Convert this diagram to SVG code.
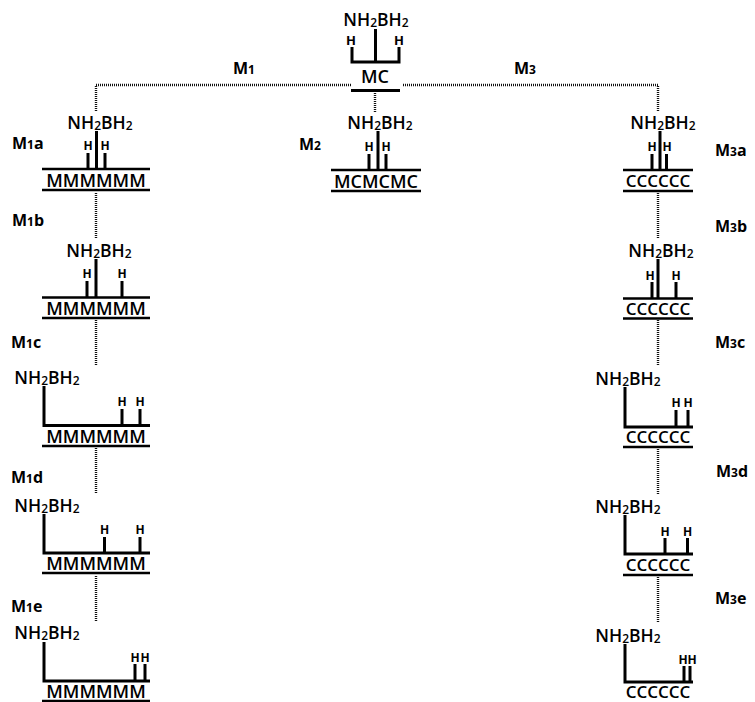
<svg xmlns="http://www.w3.org/2000/svg" width="755" height="702" viewBox="0 0 755 702">
<style>
text{font-family:"Open Sans","Liberation Sans",sans-serif;fill:#000}
.f{font-size:17.5px;font-weight:600;text-anchor:middle}
.f tspan{font-size:12px;baseline-shift:-1px}
.h{font-size:12px;font-weight:700;text-anchor:middle}
.s{font-size:18px;font-weight:600;text-anchor:middle}
.c{font-size:17px;font-weight:600;text-anchor:middle}
.l{font-size:16px;font-weight:700}
.l tspan{font-size:12px}
.b{stroke:#000;stroke-width:3;fill:none}
.t{stroke:#000;stroke-width:2.600;fill:none}
.d{stroke:#111;stroke-width:2.400;fill:none;stroke-dasharray:1 1}
.m{font-size:13px;font-weight:700;text-anchor:middle}
rect{fill:#fff}
</style>
<rect width="755" height="702"/>
<g id="connectors">
<path class="d" d="M351 85H96V112M403 85H658V112M375 93V112M96 193V238M96 320V366M96 448V494M96 576V621M658 193V238M658 320V366M658 449V495M658 577V623"/>
</g>
<g id="labels">
<text class="l" x="233" y="74">M<tspan>1</tspan></text>
<text class="l" x="514" y="74">M<tspan>3</tspan></text>
<text class="l" x="299" y="150">M<tspan>2</tspan></text>
<text class="l" x="12" y="149">M<tspan>1</tspan>a</text>
<text class="l" x="12" y="226">M<tspan>1</tspan>b</text>
<text class="l" x="11" y="348">M<tspan>1</tspan>c</text>
<text class="l" x="11" y="483">M<tspan>1</tspan>d</text>
<text class="l" x="11" y="612">M<tspan>1</tspan>e</text>
<text class="l" x="715" y="156">M<tspan>3</tspan>a</text>
<text class="l" x="715" y="232">M<tspan>3</tspan>b</text>
<text class="l" x="715" y="348">M<tspan>3</tspan>c</text>
<text class="l" x="716" y="477">M<tspan>3</tspan>d</text>
<text class="l" x="715" y="604">M<tspan>3</tspan>e</text>
</g>
<g id="node-mc">
<text class="f" x="376" y="26">NH<tspan>2</tspan>BH<tspan>2</tspan></text>
<text class="m" x="351" y="45">H</text>
<text class="m" x="399" y="45">H</text>
<path class="b" d="M352 47V62H399V47M375.500 29V62M351 90.500H400"/>
<text class="s" x="375" y="83">MC</text>
</g>
<g id="node-m2">
<text class="f" x="380" y="129">NH<tspan>2</tspan>BH<tspan>2</tspan></text>
<text class="h" x="369" y="151">H</text><text class="h" x="386" y="151">H</text>
<path class="b" d="M378 131V170M369 154V170M386 154V170"/>
<path class="t" d="M331 170H421M331 191H421"/>
<text class="s" x="376" y="188">MCMCMC</text>
</g>
<g id="node-m1a">
<text class="f" x="100" y="129">NH<tspan>2</tspan>BH<tspan>2</tspan></text>
<text class="h" x="88" y="150">H</text><text class="h" x="105" y="150">H</text>
<path class="b" d="M96.500 131V169M88 153V169M105 153V169"/>
<path class="t" d="M42 169H150M42 190H150"/>
<text class="s" x="96" y="187">MMMMMM</text>
</g>
<g id="node-m1b">
<text class="f" x="99" y="257">NH<tspan>2</tspan>BH<tspan>2</tspan></text>
<text class="h" x="87" y="278">H</text><text class="h" x="122" y="278">H</text>
<path class="b" d="M96 259V297M87 281V297M122 281V297"/>
<path class="t" d="M42 297.500H150M42 318H150"/>
<text class="s" x="96" y="315">MMMMMM</text>
</g>
<g id="node-m1c">
<text class="f" x="47" y="384">NH<tspan>2</tspan>BH<tspan>2</tspan></text>
<text class="h" x="122" y="406">H</text><text class="h" x="140" y="406">H</text>
<path class="b" d="M44 386V425.500H150M122 409V425M140 409V425"/>
<path class="t" d="M42 446H150"/>
<text class="s" x="96" y="443">MMMMMM</text>
</g>
<g id="node-m1d">
<text class="f" x="47" y="512">NH<tspan>2</tspan>BH<tspan>2</tspan></text>
<text class="h" x="104.500" y="534">H</text><text class="h" x="140" y="534">H</text>
<path class="b" d="M44 514V553H150M104.500 537V553M140 537V553"/>
<path class="t" d="M42 573H150"/>
<text class="s" x="96" y="570">MMMMMM</text>
</g>
<g id="node-m1e">
<text class="f" x="47" y="639">NH<tspan>2</tspan>BH<tspan>2</tspan></text>
<text class="h" x="135" y="662">H</text><text class="h" x="145" y="662">H</text>
<path class="b" d="M44 642V681H150M135 664V681M145 664V681"/>
<path class="t" d="M42 701H150"/>
<text class="s" x="96" y="698">MMMMMM</text>
</g>
<g id="node-m3a">
<text class="f" x="663" y="129">NH<tspan>2</tspan>BH<tspan>2</tspan></text>
<text class="h" x="652" y="151">H</text><text class="h" x="667" y="151">H</text>
<path class="b" d="M660 131V170M652 154V170M666.500 154V170"/>
<path class="t" d="M623 170H693M623 191H693"/>
<text class="c" x="658" y="187">CCCCCC</text>
</g>
<g id="node-m3b">
<text class="f" x="661" y="257">NH<tspan>2</tspan>BH<tspan>2</tspan></text>
<text class="h" x="650" y="280">H</text><text class="h" x="676" y="280">H</text>
<path class="b" d="M658 259V298M652 282V298M676 282V298"/>
<path class="t" d="M623 298.500H693M623 318.500H693"/>
<text class="c" x="658" y="315">CCCCCC</text>
</g>
<g id="node-m3c">
<text class="f" x="628" y="385">NH<tspan>2</tspan>BH<tspan>2</tspan></text>
<text class="h" x="676" y="407">H</text><text class="h" x="688" y="407">H</text>
<path class="b" d="M625 387V427H693M676 410V427M688 410V427"/>
<path class="t" d="M623 447H693"/>
<text class="c" x="658" y="443">CCCCCC</text>
</g>
<g id="node-m3d">
<text class="f" x="628" y="513">NH<tspan>2</tspan>BH<tspan>2</tspan></text>
<text class="h" x="665" y="536">H</text><text class="h" x="687.500" y="536">H</text>
<path class="b" d="M625 515V554H693M665 538V554M687.500 538V554"/>
<path class="t" d="M623 575H693"/>
<text class="c" x="658" y="571">CCCCCC</text>
</g>
<g id="node-m3e">
<text class="f" x="628" y="642">NH<tspan>2</tspan>BH<tspan>2</tspan></text>
<text class="h" x="683" y="664">H</text><text class="h" x="692" y="664">H</text>
<path class="b" d="M625 644V682H693M684 666V682M690 666V682"/>
<text class="c" x="658" y="698">CCCCCC</text>
</g>
</svg>
